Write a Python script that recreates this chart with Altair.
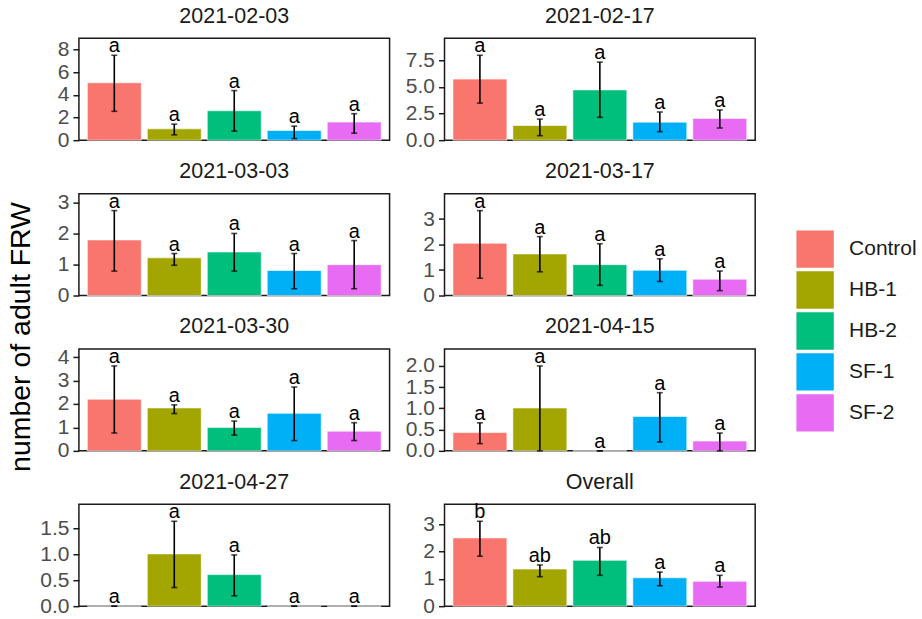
import altair as alt
import pandas as pd

# Treatments and their fill colours
treatments = ["Control", "HB-1", "HB-2", "SF-1", "SF-2"]
palette = ["#F8766D", "#A3A500", "#00BF7D", "#00B0F6", "#E76BF3"]

# Sampling dates (one panel each) plus the pooled summary
dates = ["2021-02-03", "2021-02-17", "2021-03-03", "2021-03-17",
         "2021-03-30", "2021-04-15", "2021-04-27", "Overall"]

# Mean adult FRW per treatment, in treatment order
mean_0203 = [5.07, 1.00, 2.60, 0.86, 1.60]
mean_0217 = [5.72, 1.37, 4.71, 1.69, 2.04]
mean_0303 = [1.80, 1.22, 1.41, 0.81, 1.00]
mean_0317 = [2.05, 1.63, 1.21, 0.99, 0.64]
mean_0330 = [2.20, 1.83, 1.00, 1.60, 0.84]
mean_0415 = [0.43, 1.01, 0.00, 0.81, 0.23]
mean_0427 = [0.00, 1.01, 0.61, 0.00, 0.00]
mean_all = [2.50, 1.36, 1.68, 1.04, 0.91]

# Lower ends of the error bars
low_0203 = [2.55, 0.47, 0.80, 0.14, 0.62]
low_0217 = [3.47, 0.42, 2.14, 0.80, 1.14]
low_0303 = [0.79, 0.98, 0.79, 0.22, 0.22]
low_0317 = [0.68, 0.93, 0.40, 0.55, 0.19]
low_0330 = [0.76, 1.59, 0.67, 0.44, 0.44]
low_0415 = [0.17, 0.00, 0.00, 0.21, 0.00]
low_0427 = [0.00, 0.36, 0.20, 0.00, 0.00]
low_all = [1.83, 1.08, 1.13, 0.75, 0.70]

# Upper ends of the error bars
high_0203 = [7.50, 1.42, 4.38, 1.24, 2.34]
high_0217 = [7.95, 1.97, 7.31, 2.64, 2.83]
high_0303 = [2.75, 1.36, 2.01, 1.36, 1.78]
high_0317 = [3.33, 2.31, 2.03, 1.44, 0.96]
high_0330 = [3.62, 1.96, 1.27, 2.72, 1.20]
high_0415 = [0.66, 2.00, 0.00, 1.37, 0.42]
high_0427 = [0.00, 1.64, 0.99, 0.00, 0.00]
high_all = [3.11, 1.51, 2.15, 1.25, 1.13]

# Compact letter display from the mean separation test
letters_date = ["a", "a", "a", "a", "a"]
letters_all = ["b", "ab", "ab", "a", "a"]

# Y-axis tick values and label formats, per panel
ticks_0203 = [0, 2, 4, 6, 8]
ticks_0217 = [0, 2.5, 5, 7.5]
ticks_0303 = [0, 1, 2, 3]
ticks_0317 = [0, 1, 2, 3]
ticks_0330 = [0, 1, 2, 3, 4]
ticks_0415 = [0, 0.5, 1, 1.5, 2]
ticks_0427 = [0, 0.5, 1, 1.5]
ticks_all = [0, 1, 2, 3]

means = [mean_0203, mean_0217, mean_0303, mean_0317, mean_0330, mean_0415, mean_0427, mean_all]
lows = [low_0203, low_0217, low_0303, low_0317, low_0330, low_0415, low_0427, low_all]
highs = [high_0203, high_0217, high_0303, high_0317, high_0330, high_0415, high_0427, high_all]
letters = [letters_date] * 7 + [letters_all]
ticks = [ticks_0203, ticks_0217, ticks_0303, ticks_0317, ticks_0330, ticks_0415, ticks_0427, ticks_all]
formats = ["d", ".1f", "d", "d", "d", ".1f", ".1f", "d"]

FONT = "Liberation Sans"
PANEL_W, PANEL_H = 311, 102


def panel(i):
    df = pd.DataFrame({
        "treatment": treatments,
        "mean": means[i],
        "lo": lows[i],
        "hi": highs[i],
        "letter": letters[i],
    })
    ymax = max(highs[i]) * 1.2
    yscale = alt.Scale(domain=[0, ymax], nice=False, zero=True)
    # every layer carries the same axis so the merged axis keeps its ticks
    yaxis = alt.Axis(values=ticks[i], format=formats[i],
                     labelOverlap=False, labelFlush=False)

    def yenc(field):
        return alt.Y(field, type="quantitative", scale=yscale, axis=yaxis, title=None)

    x = alt.X("treatment:N", sort=treatments, axis=None,
              scale=alt.Scale(paddingInner=0.1, paddingOuter=0.14))
    base = alt.Chart(df).encode(x=x)

    bars = base.mark_bar(stroke="white", strokeWidth=0.6).encode(
        y=yenc("mean"),
        color=alt.Color("treatment:N", sort=treatments,
                        scale=alt.Scale(domain=treatments, range=palette),
                        legend=alt.Legend(title=None)),
    )
    stem = base.mark_rule(color="black", strokeWidth=1.6).encode(
        y=yenc("lo"), y2="hi:Q")
    cap_lo = base.mark_tick(color="black", size=6, thickness=1.6).encode(y=yenc("lo"))
    cap_hi = base.mark_tick(color="black", size=6, thickness=1.6).encode(y=yenc("hi"))
    label = base.mark_text(baseline="alphabetic", dy=-3, fontSize=20,
                           color="black", font=FONT).encode(
        y=yenc("hi"), text="letter:N")

    return alt.layer(bars, stem, cap_lo, cap_hi, label).properties(
        width=PANEL_W, height=PANEL_H,
        title=alt.TitleParams(dates[i], fontSize=21.5, fontWeight="normal",
                              color="#1A1A1A", font=FONT, offset=9),
    )


chart = alt.concat(
    *[panel(i) for i in range(len(dates))],
    columns=2, spacing={"row": 53.5, "column": 55}, bounds="flush",
    title=alt.TitleParams("number of adult FRW", orient="left", anchor="middle",
                          fontSize=28.5, fontWeight="normal", color="#000000",
                          font=FONT, offset=4, dx=-26),
).configure(
    font=FONT,
    padding={"left": 6, "top": 4, "right": 5, "bottom": 5},
).configure_view(
    stroke="#1A1A1A", strokeWidth=1.5,
).configure_axisY(
    domain=False, grid=False, ticks=True, tickColor="#1A1A1A", tickWidth=1.5,
    tickSize=6, labelFontSize=21, labelColor="#4D4D4D", labelPadding=4,
    labelFont=FONT,
).configure_legend(
    orient="none", legendX=718, legendY=192, symbolType="square",
    symbolSize=1400, symbolStrokeWidth=0, labelFontSize=21, labelColor="#1A1A1A",
    labelFont=FONT, labelOffset=15, rowPadding=3,
)

chart.save("out.html", embed_options={"renderer": "svg", "actions": False})
